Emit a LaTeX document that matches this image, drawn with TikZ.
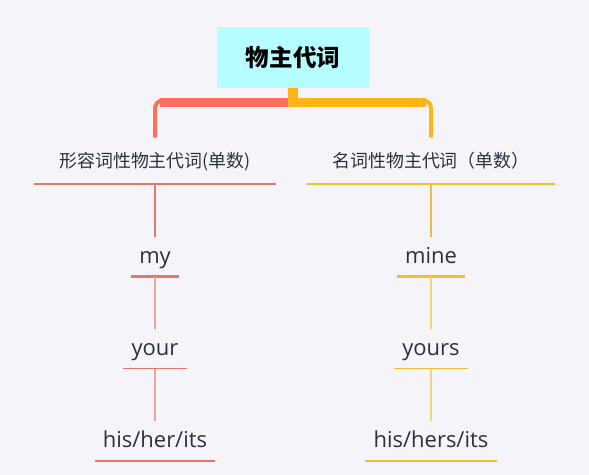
\documentclass[tikz,border=0pt]{standalone}
\usepackage{fontspec}
\setmainfont{Open Sans}
\newfontfamily\cjk{Noto Sans CJK SC}
\usetikzlibrary{positioning}
\usetikzlibrary{calc}
\definecolor{bgcol}{HTML}{F5F5F9}
\definecolor{rootcol}{HTML}{B5FDFE}
\definecolor{redbr}{HTML}{FF6F5E}
\definecolor{orbr}{HTML}{FFB516}
\definecolor{redln}{HTML}{E8776B}
\definecolor{orln}{HTML}{F1BC38}
\definecolor{redlt}{HTML}{F0A49C}
\definecolor{orlt}{HTML}{F5D27C}
\definecolor{txtcol}{HTML}{2C3040}

\begin{document}
\begin{tikzpicture}[x=0.02cm,y=-0.02cm,
	rootnode/.style={fill=rootcol,minimum width=3.06cm,minimum height=1.22cm,inner sep=0pt,font=\cjk\bfseries\fontsize{13.4pt}{16pt}\selectfont},
	catnode/.style={inner xsep=0.5cm,inner ysep=0pt,text height=0.6cm,text depth=0.32cm,text=txtcol,font=\cjk\fontsize{10.2pt}{12pt}\selectfont},
	leafnode/.style={inner xsep=0.16cm,inner ysep=0pt,text height=0.52cm,text depth=0.26cm,text=txtcol,font=\fontsize{12.5pt}{15pt}\selectfont},
	brline/.style={line width=0.08cm,rounded corners=0.16cm},
	brbar/.style={line width=0.18cm},
	node distance = 1.05cm]
		\fill[bgcol] (0,0) rectangle (589,475);
		\useasboundingbox (0,0) rectangle (589,475);
		\node[rootnode] (root) at (293,57.5){物主代词};
		\node[catnode] (adjl) at (155,161){形容词性物主代词(单数)};
		\node[catnode] (nounl) at (431,161){名词性物主代词（单数）};
		\node[leafnode] (my)[below = of adjl]{my};
		\node[leafnode] (your)[below = of my]{your};
		\node[leafnode] (his)[below = of your]{his/her/its};
		\node[leafnode] (mine)[below = of nounl]{mine};
		\node[leafnode] (yours)[below = of mine]{yours};
		\node[leafnode] (hers)[below = of yours]{his/hers/its};
		% branches from the root
		\draw[brline,redbr] ($(root.south)+(-5,12)$) -| (adjl.north);
		\draw[brbar,redbr] ($(root.south)+(-5,14.5)$) -- ($(adjl.north |- root.south)+(5,14.5)$);
		\draw[brline,orbr] ($(root.south)+(-5,12)$) -| (nounl.north);
		\draw[brbar,orbr] ($(root.south)+(-5,14.5)$) -- ($(nounl.north |- root.south)+(-5,14.5)$);
		\fill[orbr] ($(root.south)+(-5,0)$) rectangle ($(root.south)+(5,10)$);
		% left side
		\draw[redln,line width=0.04cm] (adjl.south west) -- (adjl.south east);
		\draw[redln,line width=0.04cm] (adjl.south) -- (my.north);
		\draw[redln,line width=0.05cm] (my.south west) -- (my.south east);
		\draw[redlt,line width=0.03cm] (my.south) -- (your.north);
		\draw[redln,line width=0.03cm] (your.south west) -- (your.south east);
		\draw[redlt,line width=0.03cm] (your.south) -- (his.north);
		\draw[redln,line width=0.03cm] (his.south west) -- (his.south east);
		% right side
		\draw[orln,line width=0.04cm] (nounl.south west) -- (nounl.south east);
		\draw[orln,line width=0.04cm] (nounl.south) -- (mine.north);
		\draw[orln,line width=0.05cm] (mine.south west) -- (mine.south east);
		\draw[orlt,line width=0.03cm] (mine.south) -- (yours.north);
		\draw[orln,line width=0.03cm] (yours.south west) -- (yours.south east);
		\draw[orlt,line width=0.03cm] (yours.south) -- (hers.north);
		\draw[orln,line width=0.03cm] (hers.south west) -- (hers.south east);
	\end{tikzpicture}
\end{document}
